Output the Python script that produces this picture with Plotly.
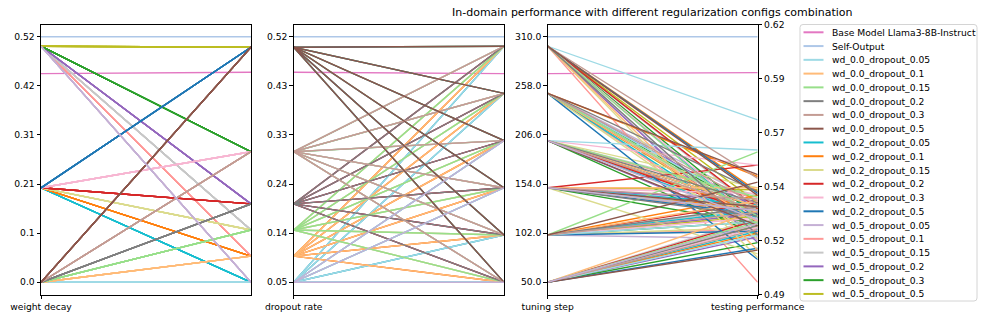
'''
    Parallel coordinates chart: regularization configs vs in-domain performance.
'''

import plotly.graph_objects as go

W, H = 997, 332

columns = ["weight decay", "dropout rate", "tuning step", "testing performance"]

# Reference rows (drawn as flat lines)
baseline_names = ["Base Model Llama3-8B-Instruct", "Self-Output"]
baseline_wd = [0.442, 0.52]
baseline_dropout = [0.452, 0.52]
baseline_step = [271, 310]
baseline_perf = [0.601, 0.62]

config_names = [
    "wd_0.0_dropout_0.05", "wd_0.0_dropout_0.1", "wd_0.0_dropout_0.15",
    "wd_0.0_dropout_0.2", "wd_0.0_dropout_0.3", "wd_0.0_dropout_0.5",
    "wd_0.2_dropout_0.05", "wd_0.2_dropout_0.1", "wd_0.2_dropout_0.15",
    "wd_0.2_dropout_0.2", "wd_0.2_dropout_0.3", "wd_0.2_dropout_0.5",
    "wd_0.5_dropout_0.05", "wd_0.5_dropout_0.1", "wd_0.5_dropout_0.15",
    "wd_0.5_dropout_0.2", "wd_0.5_dropout_0.3", "wd_0.5_dropout_0.5",
]
config_wd = [0.0, 0.0, 0.0, 0.0, 0.0, 0.0,
             0.2, 0.2, 0.2, 0.2, 0.2, 0.2,
             0.5, 0.5, 0.5, 0.5, 0.5, 0.5]
config_dropout = [0.05, 0.1, 0.15, 0.2, 0.3, 0.5,
                  0.05, 0.1, 0.15, 0.2, 0.3, 0.5,
                  0.05, 0.1, 0.15, 0.2, 0.3, 0.5]

steps = [50, 100, 150, 200, 250, 300]

# testing performance at each tuning step (approximate)
perf_wd00_d005 = [0.515, 0.522, 0.530, 0.560, 0.528, 0.576]
perf_wd00_d01 = [0.528, 0.533, 0.540, 0.530, 0.522, 0.507]
perf_wd00_d015 = [0.522, 0.559, 0.528, 0.535, 0.525, 0.520]
perf_wd00_d02 = [0.520, 0.530, 0.525, 0.532, 0.538, 0.515]
perf_wd00_d03 = [0.518, 0.527, 0.534, 0.528, 0.531, 0.545]
perf_wd00_d05 = [0.507, 0.543, 0.530, 0.520, 0.547, 0.536]
perf_wd02_d005 = [0.517, 0.528, 0.531, 0.524, 0.518, 0.521]
perf_wd02_d01 = [0.516, 0.536, 0.529, 0.527, 0.546, 0.538]
perf_wd02_d015 = [0.521, 0.519, 0.505, 0.540, 0.513, 0.503]
perf_wd02_d02 = [0.523, 0.532, 0.552, 0.526, 0.522, 0.529]
perf_wd02_d03 = [0.519, 0.524, 0.537, 0.552, 0.525, 0.522]
perf_wd02_d05 = [0.508, 0.517, 0.526, 0.530, 0.502, 0.537]
perf_wd05_d005 = [0.521, 0.513, 0.528, 0.523, 0.533, 0.512]
perf_wd05_d01 = [0.520, 0.518, 0.527, 0.534, 0.516, 0.490]
perf_wd05_d015 = [0.524, 0.529, 0.531, 0.536, 0.524, 0.528]
perf_wd05_d02 = [0.514, 0.526, 0.533, 0.519, 0.529, 0.511]
perf_wd05_d03 = [0.511, 0.522, 0.521, 0.515, 0.527, 0.524]
perf_wd05_d05 = [0.520, 0.525, 0.539, 0.530, 0.521, 0.532]

config_perf = [
    perf_wd00_d005, perf_wd00_d01, perf_wd00_d015, perf_wd00_d02, perf_wd00_d03, perf_wd00_d05,
    perf_wd02_d005, perf_wd02_d01, perf_wd02_d015, perf_wd02_d02, perf_wd02_d03, perf_wd02_d05,
    perf_wd05_d005, perf_wd05_d01, perf_wd05_d015, perf_wd05_d02, perf_wd05_d03, perf_wd05_d05,
]

# tab20 colours, legend order
baseline_colors = ["#e377c2", "#aec7e8"]
config_colors = [
    "#9edae5", "#ffbb78", "#98df8a", "#7f7f7f", "#c49c94", "#8c564b",
    "#17becf", "#ff7f0e", "#dbdb8d", "#d62728", "#f7b6d2", "#1f77b4",
    "#c5b0d5", "#ff9896", "#c7c7c7", "#9467bd", "#2ca02c", "#bcbd22",
]

FONT = "DejaVu Sans"

# ---- build rows -------------------------------------------------------------
rows = []  # (name, color, [wd, dropout, step, perf])
for i in range(len(baseline_names)):
    rows.append((baseline_names[i], baseline_colors[i],
                 [baseline_wd[i], baseline_dropout[i], baseline_step[i], baseline_perf[i]]))

config_rows = {}
for c in range(len(config_names)):
    for s in range(len(steps)):
        config_rows[(c, s)] = (config_names[c], config_colors[c],
                               [config_wd[c], config_dropout[c], steps[s], config_perf[c][s]])

# draw order: wd 0.5 first, then 0.2, then 0.0 on top
on_top = [(12, 0), (12, 2), (12, 3)]
for group in ([12, 13, 14, 15, 16, 17], [6, 7, 8, 9, 10, 11], [0, 1, 2, 3, 4, 5]):
    for c in group:
        for s in range(len(steps)):
            if (c, s) not in on_top:
                rows.append(config_rows[(c, s)])
for key in on_top:
    rows.append(config_rows[key])

mins = [min(r[2][k] for r in rows) for k in range(4)]
maxs = [max(r[2][k] for r in rows) for k in range(4)]


def norm(vals):
    return [(v - mins[k]) / (maxs[k] - mins[k]) for k, v in enumerate(vals)]


def tick_labels(k, n=6):
    step = (maxs[k] - mins[k]) / (n - 1)
    return [str(round(mins[k] + step * i, 2)) for i in range(n)]


norm_ticks = [0.0, 0.2, 0.4, 0.6, 0.8, 1.0]

fig = go.Figure()

for p in range(1, 4):
    for name, color, vals in rows:
        fig.add_trace(go.Scatter(
            x=[0, 1, 2, 3], y=norm(vals), mode="lines", name=name,
            line=dict(color=color, width=1.4),
            xaxis="x%d" % p, yaxis="y%d" % p, showlegend=False,
        ))

# empty trace so the right-hand (performance) axis gets its subplot
fig.add_trace(go.Scatter(x=[], y=[], xaxis="x3", yaxis="y4", showlegend=False))


def px(x):
    return x / W


def py(y):
    return 1 - y / H


panel_x = [(41, 251), (293.7, 504), (547.7, 757.7)]
top, bottom = 24.5, 294.5
ydom = [py(bottom), py(top)]

axis_style = dict(showline=True, mirror=True, linecolor="black", linewidth=1,
                  ticks="outside", ticklen=3.5, tickwidth=1, tickcolor="black",
                  showgrid=False, zeroline=False, automargin=False,
                  tickfont=dict(family=FONT, size=9.2, color="black"))

layout = {}
for p in range(1, 4):
    x0, x1 = panel_x[p - 1]
    tv = [p - 1] if p < 3 else [2, 3]
    tt = [columns[p - 1]] if p < 3 else [columns[2], columns[3]]
    layout["xaxis%d" % p] = dict(domain=[px(x0), px(x1)], range=[p - 1, p],
                                 anchor="y%d" % p, tickvals=tv, ticktext=tt, **axis_style)
    layout["yaxis%d" % p] = dict(domain=ydom, range=[-0.05, 1.05], anchor="x%d" % p,
                                 tickvals=norm_ticks, ticktext=tick_labels(p - 1), **axis_style)

layout["yaxis4"] = dict(overlaying="y3", side="right", anchor="x3", range=[0, 1],
                        tickvals=norm_ticks, ticktext=tick_labels(3), **axis_style)

fig.update_layout(**layout)

# title above the last panel
fig.add_annotation(text="In-domain performance with different regularization configs combination",
                   x=px(sum(panel_x[2]) / 2), y=py(12.0), xref="paper", yref="paper",
                   showarrow=False, xanchor="center", yanchor="middle", borderpad=0,
                   font=dict(family=FONT, size=11, color="black"))

# legend drawn by hand (matplotlib-style, compact rows)
lx0, lx1, ly0, ly1, r = 800, 977, 24.5, 301, 3
legend_path = ("M %f,%f L %f,%f Q %f,%f %f,%f L %f,%f Q %f,%f %f,%f "
               "L %f,%f Q %f,%f %f,%f L %f,%f Q %f,%f %f,%f Z") % (
    px(lx0 + r), py(ly0), px(lx1 - r), py(ly0), px(lx1), py(ly0), px(lx1), py(ly0 + r),
    px(lx1), py(ly1 - r), px(lx1), py(ly1), px(lx1 - r), py(ly1),
    px(lx0 + r), py(ly1), px(lx0), py(ly1), px(lx0), py(ly1 - r),
    px(lx0), py(ly0 + r), px(lx0), py(ly0), px(lx0 + r), py(ly0))
fig.add_shape(type="path", path=legend_path, xref="paper", yref="paper",
              line=dict(color="#d4d4d4", width=1), fillcolor="rgba(255,255,255,0.8)")

legend_names = baseline_names + config_names
legend_colors = baseline_colors + config_colors
for k, (name, color) in enumerate(zip(legend_names, legend_colors)):
    yc = 32.3 + 13.77 * k
    fig.add_shape(type="line", xref="paper", yref="paper",
                  x0=px(803.5), x1=px(823.5), y0=py(yc), y1=py(yc),
                  line=dict(color=color, width=2))
    fig.add_annotation(text=name, x=px(829.5), y=py(yc), xref="paper", yref="paper",
                       showarrow=False, xanchor="left", yanchor="middle",
                       font=dict(family=FONT, size=9.2, color="black"))

fig.update_layout(width=W, height=H,
                  margin=dict(l=0, r=0, t=0, b=0, autoexpand=False),
                  plot_bgcolor="white", paper_bgcolor="white")

# drop the default page margin so the figure fills the window exactly
fig.write_html("out.html", config={"displayModeBar": False},
               post_script="document.body.style.margin = '0';")
